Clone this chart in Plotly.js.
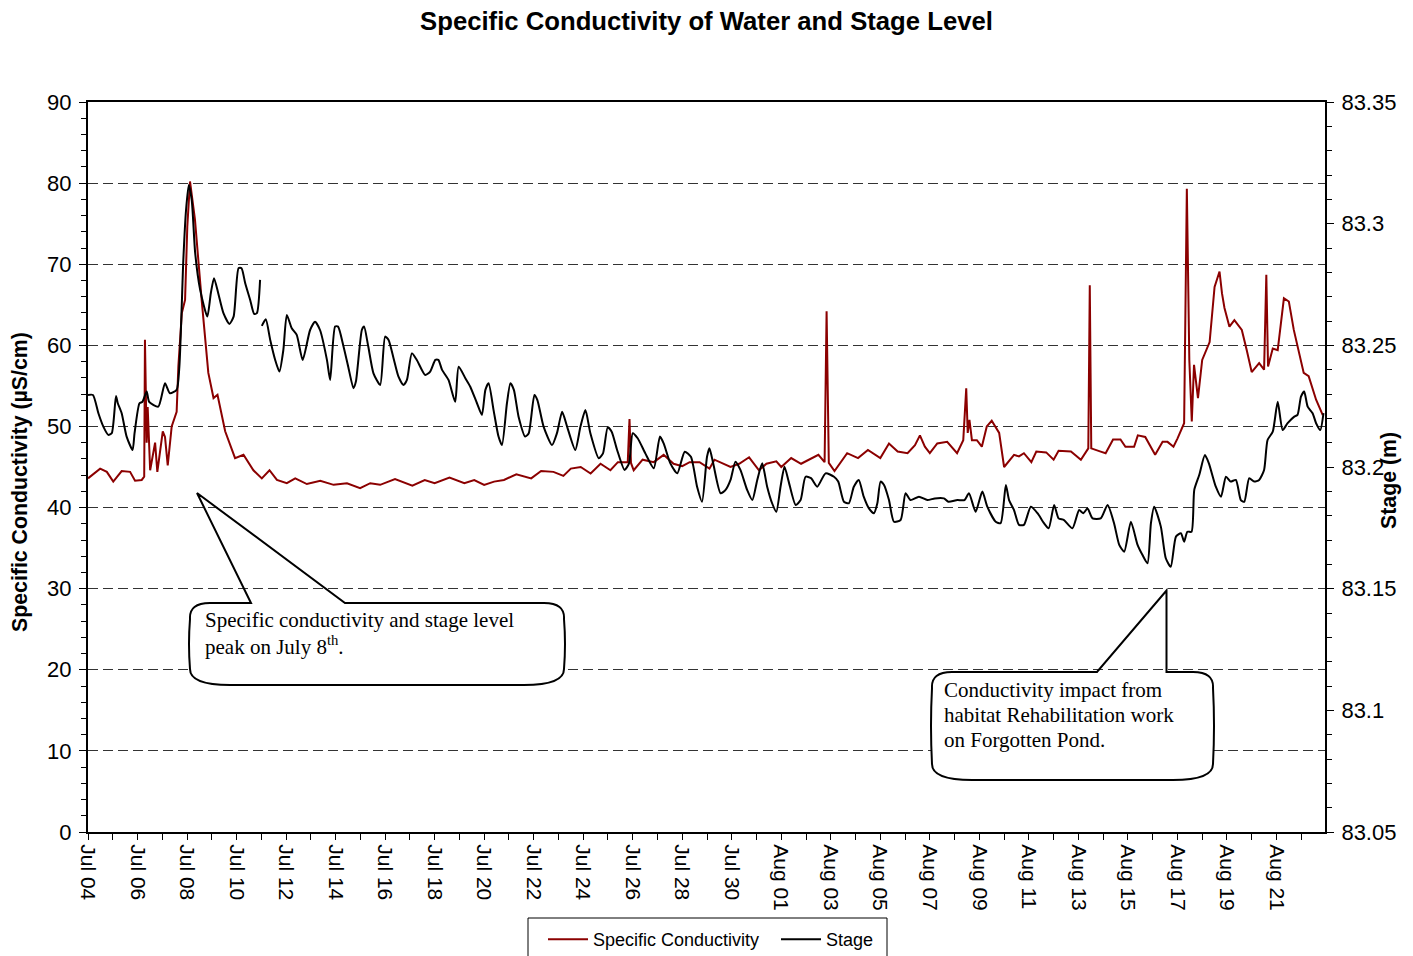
<!DOCTYPE html>
<html>
<head>
<meta charset="utf-8">
<script src="https://cdn.plot.ly/plotly-3.0.1.min.js"></script>
<style>
  html, body { margin: 0; padding: 0; background: #fff; }
  #chart { width: 1413px; height: 956px; }
</style>
</head>
<body>
<div id="chart"></div>
<script>
// ---- Data (days since Jul 04, 00:00) ----
const startDate = Date.UTC(2010, 6, 4);
const DAY = 86400000;

const condDays = [
  0, 0.49, 0.76, 1.02, 1.36, 1.70, 1.90, 2.17, 2.27, 2.30,
  2.37, 2.41, 2.51, 2.71, 2.80, 3.02, 3.11, 3.22, 3.38, 3.58,
  3.65, 3.79, 3.92, 4.01, 4.12, 4.32, 4.59, 4.86, 5.07, 5.23,
  5.54, 5.94, 6.28, 6.68, 7.02, 7.33, 7.63, 8.03, 8.37, 8.84,
  9.38, 9.92, 10.46, 10.99, 11.4, 11.8, 12.4, 13.1, 13.6,
  14.0, 14.6, 15.2, 15.6, 16.0, 16.4, 16.8, 17.3, 17.9, 18.3,
  18.8, 19.2, 19.5, 19.9, 20.3, 20.7, 21.1, 21.4, 21.8, 21.87,
  21.93, 22.04, 22.4, 22.85, 23.25, 23.65, 24.0, 24.3, 24.7, 25.1,
  25.3, 25.95, 26.3, 26.7, 27.1, 27.4, 27.8, 28.0, 28.4, 28.8,
  29.5, 29.75, 29.83, 29.92, 30.15, 30.66, 31.1, 31.5, 32.0, 32.35,
  32.7, 33.1, 33.4, 33.6, 33.8, 34.0, 34.3, 34.7, 35.1, 35.35,
  35.47, 35.53, 35.6, 35.7, 35.9, 36.1, 36.3, 36.5, 36.8, 37.0,
  37.4, 37.6, 37.8, 38.1, 38.3, 38.7, 39.0, 39.2, 39.7, 40.1,
  40.4, 40.46, 40.52, 40.9, 41.1, 41.4, 41.7, 41.9, 42.25, 42.4,
  42.7, 43.1, 43.4, 43.6, 43.84, 44.0, 44.27, 44.38, 44.48, 44.58,
  44.67, 44.83, 45.0, 45.3, 45.5, 45.7, 45.8, 45.9, 46.1, 46.3,
  46.6, 46.8, 47.0, 47.3, 47.5, 47.59, 47.66, 47.85, 48.05, 48.3,
  48.5, 48.7, 49.0, 49.1, 49.3, 49.6, 49.87
];
const condValues = [
  43.6, 44.8, 44.4, 43.2, 44.5, 44.4, 43.3, 43.4, 43.8, 60.7,
  48.0, 52.4, 44.6, 48.0, 44.4, 49.4, 48.7, 45.2, 50.0, 51.8,
  57.4, 64.0, 65.6, 74.6, 80.2, 75.5, 65.6, 56.6, 53.5, 53.9,
  49.4, 46.1, 46.5, 44.6, 43.6, 44.6, 43.4, 43.0, 43.6, 42.9,
  43.3, 42.8, 43.0, 42.4, 43.0, 42.8, 43.5, 42.7, 43.4,
  43.0, 43.7, 43.0, 43.4, 42.8, 43.2, 43.4, 44.1, 43.6, 44.5,
  44.4, 43.9, 44.8, 45.0, 44.2, 45.4, 44.6, 45.6, 45.6, 50.9,
  45.5, 44.6, 45.9, 45.6, 46.5, 45.4, 45.1, 45.6, 45.6, 44.8,
  45.9, 45.0, 45.4, 46.2, 44.6, 45.4, 45.7, 45.0, 46.1, 45.4,
  46.5, 45.6, 64.2, 45.5, 44.5, 46.7, 46.1, 47.1, 46.1, 47.9,
  46.9, 46.7, 47.7, 48.9, 47.5, 46.7, 47.9, 48.1, 46.7, 48.3,
  54.7, 49.2, 50.8, 48.3, 48.3, 47.5, 50.0, 50.7, 49.2, 45.0,
  46.5, 46.3, 46.7, 45.6, 46.9, 46.8, 45.9, 47.0, 46.9, 45.9,
  47.3, 67.4, 47.3, 46.9, 46.7, 48.4, 48.4, 47.5, 47.5, 48.9,
  48.7, 46.5, 48.1, 48.1, 47.5, 48.5, 50.4, 79.3, 58.2, 50.6,
  57.6, 53.5, 58.2, 60.4, 67.2, 69.1, 66.4, 64.6, 62.3, 63.1,
  61.9, 59.4, 56.7, 57.8, 57.0, 68.7, 57.4, 59.6, 59.4, 65.8,
  65.4, 61.9, 57.8, 56.6, 56.2, 53.3, 51.4
];

const stageDays = [
  0, 0.2, 0.42, 0.62, 0.82, 0.96, 1.13, 1.2, 1.36, 1.56,
  1.8, 1.88, 2.08, 2.2, 2.37, 2.47, 2.84, 3.11, 3.31, 3.58,
  3.69, 3.85, 3.96, 4.07, 4.19, 4.33, 4.53, 4.82, 4.96, 5.09,
  5.26, 5.47, 5.71, 5.88, 6.08, 6.2, 6.35, 6.55, 6.71, 6.82,
  6.95, 6.985, 7.02, 7.18, 7.36, 7.56, 7.73, 7.89, 8.03, 8.23,
  8.43, 8.67, 8.97, 9.17, 9.37, 9.65, 9.78, 9.98, 10.1, 10.32,
  10.51, 10.72, 10.82, 11.06, 11.15, 11.32, 11.53, 11.8, 12.0, 12.14,
  12.34, 12.54, 12.74, 12.88, 13.08, 13.28, 13.62, 13.82, 14.03, 14.15,
  14.3, 14.56, 14.83, 14.97, 15.24, 15.44, 15.71, 15.91, 16.05, 16.18,
  16.38, 16.58, 16.72, 16.92, 17.06, 17.2, 17.39, 17.66, 17.8, 18.03,
  18.15, 18.4, 18.74, 18.94, 19.15, 19.35, 19.68, 19.89, 20.09, 20.29,
  20.63, 20.8, 20.99, 21.15, 21.37, 21.67, 21.85, 22.0, 22.2, 22.51,
  22.85, 23.1, 23.25, 23.52, 23.8, 24.1, 24.35, 24.6, 24.8, 25.0,
  25.1, 25.25, 25.55, 25.75, 25.95, 26.15, 26.35, 26.62, 26.83, 27.03,
  27.23, 27.43, 27.63, 27.8, 27.97, 28.13, 28.3, 28.58, 28.78, 28.98,
  29.2, 29.45, 29.79, 30.13, 30.3, 30.53, 30.73, 30.93, 31.13, 31.33,
  31.54, 31.74, 31.88, 32.01, 32.15, 32.35, 32.55, 32.82, 33.02, 33.22,
  33.56, 33.9, 34.2, 34.57, 34.75, 35.11, 35.4, 35.58, 35.85, 36.12,
  36.32, 36.66, 36.86, 37.07, 37.2, 37.4, 37.6, 37.8, 38.08, 38.35,
  38.61, 38.8, 39.02, 39.2, 39.42, 39.76, 40.03, 40.2, 40.37, 40.57,
  40.9, 41.18, 41.44, 41.65, 41.85, 42.12, 42.39, 42.59, 42.79, 42.93,
  43.06, 43.33, 43.53, 43.73, 43.94, 44.14, 44.27, 44.4, 44.57, 44.68,
  44.88, 45.11, 45.27, 45.55, 45.76, 45.96, 46.15, 46.36, 46.56, 46.7,
  46.9, 47.1, 47.3, 47.5, 47.64, 47.85, 48.05, 48.25, 48.45, 48.72,
  48.85, 48.99, 49.12, 49.26, 49.46, 49.6, 49.77, 49.9
];
const stageValues = [
  83.2296, 83.2296, 83.2221, 83.2166, 83.2132, 83.2139, 83.2292, 83.2263, 83.2221, 83.2125,
  83.2070, 83.2139, 83.2262, 83.2268, 83.2310, 83.2268, 83.2248, 83.2344, 83.2303, 83.2317,
  83.2412, 83.2851, 83.3056, 83.3159, 83.3097, 83.2878, 83.2728, 83.2618, 83.2714, 83.2776,
  83.2714, 83.2632, 83.2588, 83.2618, 83.2817, 83.2817, 83.2755, 83.2686, 83.2629, 83.2632,
  83.2769, null, 83.2580, 83.2607, 83.2522, 83.2440, 83.2392, 83.2481, 83.2625, 83.2570,
  83.2543, 83.2440, 83.2563, 83.2597, 83.2563, 83.2440, 83.2358, 83.2577, 83.2577, 83.2495,
  83.2412, 83.2324, 83.2351, 83.2563, 83.2577, 83.2495, 83.2385, 83.2337, 83.2536, 83.2522,
  83.2447, 83.2371, 83.2337, 83.2358, 83.2467, 83.2440, 83.2378, 83.2392, 83.2440, 83.2440,
  83.2399, 83.2358, 83.2268, 83.2412, 83.2365, 83.2330, 83.2262, 83.2214, 83.2317, 83.2344,
  83.2234, 83.2125, 83.2090, 83.2262, 83.2344, 83.2317, 83.2207, 83.2125, 83.2139, 83.2296,
  83.2275, 83.2166, 83.2090, 83.2139, 83.2227, 83.2166, 83.2070, 83.2166, 83.2234, 83.2139,
  83.2036, 83.2056, 83.2163, 83.2145, 83.2070, 83.1988, 83.2015, 83.2139, 83.2118, 83.2056,
  83.1995, 83.2125, 83.2097, 83.2015, 83.1974, 83.2063, 83.2042, 83.1919, 83.1857, 83.2042,
  83.2077, 83.2015, 83.1892, 83.1906, 83.1947, 83.2022, 83.1988, 83.1906, 83.1864, 83.1947,
  83.2015, 83.1919, 83.1851, 83.1816, 83.1919, 83.2001, 83.1940, 83.1844, 83.1864, 83.1960,
  83.1954, 83.1919, 83.1974, 83.1960, 83.1940, 83.1857, 83.1851, 83.1919, 83.1947, 83.1878,
  83.1830, 83.1810, 83.1851, 83.1940, 83.1926, 83.1864, 83.1775, 83.1782, 83.1892, 83.1864,
  83.1878, 83.1864, 83.1871, 83.1871, 83.1857, 83.1864, 83.1864, 83.1892, 83.1816, 83.1899,
  83.1837, 83.1775, 83.1769, 83.1926, 83.1864, 83.1823, 83.1762, 83.1762, 83.1837, 83.1810,
  83.1769, 83.1748, 83.1844, 83.1789, 83.1782, 83.1748, 83.1823, 83.1810, 83.1830, 83.1789,
  83.1789, 83.1844, 83.1769, 83.1680, 83.1652, 83.1775, 83.1680, 83.1638, 83.1604, 83.1769,
  83.1837, 83.1755, 83.1625, 83.1590, 83.1714, 83.1728, 83.1693, 83.1734, 83.1734, 83.1906,
  83.1967, 83.2049, 83.2015, 83.1919, 83.1878, 83.1960, 83.1940, 83.1947, 83.1864, 83.1857,
  83.1954, 83.1940, 83.1947, 83.1988, 83.2111, 83.2145, 83.2268, 83.2152, 83.2180, 83.2207,
  83.2214, 83.2289, 83.2310, 83.2248, 83.2221, 83.2180, 83.2152, 83.2221
];

const seriesNames = ['Specific Conductivity', 'Stage'];
const chartTitle = 'Specific Conductivity of Water and Stage Level';
const yTitle = 'Specific Conductivity (\u00b5S/cm)';
const y2Title = 'Stage (m)';
const note1Lines = ['Specific conductivity and stage level', 'peak on July 8<sup>th</sup>.'];
const note2Lines = ['Conductivity impact from', 'habitat Rehabilitation work', 'on Forgotten Pond.'];

// ---- Geometry helpers (pixel -> paper) ----
const W = 1413, H = 956;
const M = { l: 88, r: 88, t: 102, b: 124 };
const PW = W - M.l - M.r, PH = H - M.t - M.b;
const px = x => (x - M.l) / PW;
const py = y => (H - M.b - y) / PH;
const P = (x, y) => px(x).toFixed(5) + ',' + py(y).toFixed(5);

function calloutPath(x0, y0, x1, y1, tail) {
  const rtx = 20, rty = 16, rbx = 40, rby = 16;
  let d = 'M' + P(x0 + rtx, y0);
  if (tail) {
    d += ' L' + P(tail[1][0], y0) + ' L' + P(tail[0][0], tail[0][1]) + ' L' + P(tail[2][0], y0);
  }
  d += ' L' + P(x1 - rtx, y0);
  d += ' Q' + P(x1 + 1, y0) + ' ' + P(x1, y0 + rty);
  d += ' Q' + P(x1 + 2, (y0 + y1) / 2) + ' ' + P(x1, y1 - rby);
  d += ' Q' + P(x1, y1) + ' ' + P(x1 - rbx, y1);
  d += ' L' + P(x0 + rbx, y1);
  d += ' Q' + P(x0, y1) + ' ' + P(x0, y1 - rby);
  d += ' Q' + P(x0 - 2, (y0 + y1) / 2) + ' ' + P(x0, y0 + rty);
  d += ' Q' + P(x0 - 1, y0) + ' ' + P(x0 + rtx, y0);
  d += ' Z';
  return d;
}

const toDate = d => startDate + d * DAY;

const traces = [
  {
    x: condDays.map(toDate), y: condValues, name: seriesNames[0],
    type: 'scatter', mode: 'lines', line: { color: '#8B0000', width: 2 },
    xaxis: 'x', yaxis: 'y'
  },
  {
    x: stageDays.map(toDate), y: stageValues, name: seriesNames[1],
    type: 'scatter', mode: 'lines', line: { color: '#000000', width: 2, shape: 'spline', smoothing: 0.6 },
    connectgaps: false, xaxis: 'x', yaxis: 'y2'
  }
];

const FONT = 'Liberation Sans, Arial, sans-serif';
const SERIF = 'Liberation Serif, Times New Roman, serif';

const c1 = [190, 603, 564, 685];
const c2 = [932, 672, 1213, 780];

const noteAnnotations = [];
note1Lines.forEach((t, i) => noteAnnotations.push({
  xref: 'paper', yref: 'paper', x: px(203), y: py(620 + 25 * i), xanchor: 'left', yanchor: 'middle',
  align: 'left', showarrow: false, text: t, font: { family: SERIF, size: 21, color: '#000' }
}));
note2Lines.forEach((t, i) => noteAnnotations.push({
  xref: 'paper', yref: 'paper', x: px(942), y: py(690 + 25 * i), xanchor: 'left', yanchor: 'middle',
  align: 'left', showarrow: false, text: t, font: { family: SERIF, size: 21, color: '#000' }
}));

const layout = {
  width: W, height: H, autosize: false,
  margin: M,
  paper_bgcolor: '#ffffff', plot_bgcolor: '#ffffff',
  font: { family: FONT, color: '#000', size: 21 },
  title: {
    text: '<b>' + chartTitle + '</b>',
    font: { family: FONT, size: 25.7, color: '#000' },
    x: 0.5, xref: 'paper', xanchor: 'center',
    y: 1 - 21 / H, yref: 'container', yanchor: 'middle'
  },
  showlegend: true,
  legend: {
    orientation: 'h', x: px(543), xref: 'paper', xanchor: 'left',
    y: 1 - 921 / H, yref: 'container', yanchor: 'top',
    borderwidth: 0, bgcolor: 'rgba(0,0,0,0)', itemwidth: 40,
    entrywidth: 178, entrywidthmode: 'pixels',
    font: { family: FONT, size: 18, color: '#000' }
  },
  xaxis: {
    type: 'date',
    range: [startDate, startDate + 49.96 * DAY],
    tickmode: 'linear', tick0: startDate, dtick: 2 * DAY,
    tickformat: '%b %d', tickangle: 90,
    ticks: 'outside', ticklen: 6, tickwidth: 1, tickcolor: '#000',
    minor: { dtick: DAY, ticks: 'outside', ticklen: 6, tickwidth: 1, tickcolor: '#000', showgrid: false },
    showline: true, linecolor: '#000', linewidth: 2, mirror: true,
    showgrid: false, zeroline: false,
    tickfont: { family: FONT, size: 21, color: '#000' },
    ticklabelstandoff: 0
  },
  yaxis: {
    range: [0, 90], tick0: 0, dtick: 10,
    ticks: 'outside', ticklen: 7, tickwidth: 1, tickcolor: '#000',
    minor: { dtick: 2, ticks: 'outside', ticklen: 5, tickwidth: 1, tickcolor: '#000', showgrid: false },
    showline: true, linecolor: '#000', linewidth: 2,
    showgrid: true, gridcolor: '#333', gridwidth: 1, griddash: '10px,5px',
    zeroline: false,
    tickfont: { family: FONT, size: 22, color: '#000' },
    ticklabelstandoff: 3
  },
  yaxis2: {
    overlaying: 'y', side: 'right',
    range: [83.05, 83.35], tick0: 83.05, dtick: 0.05,
    ticks: 'outside', ticklen: 7, tickwidth: 1, tickcolor: '#000',
    minor: { dtick: 0.01, ticks: 'outside', ticklen: 5, tickwidth: 1, tickcolor: '#000', showgrid: false },
    showline: true, linecolor: '#000', linewidth: 2,
    showgrid: false, zeroline: false,
    tickfont: { family: FONT, size: 22, color: '#000' },
    ticklabelstandoff: 3
  },
  shapes: [
    // legend frame
    { type: 'rect', xref: 'paper', yref: 'paper', layer: 'above',
      x0: px(528), x1: px(887), y0: py(918), y1: py(962),
      fillcolor: 'rgba(0,0,0,0)', line: { color: '#000', width: 1 } },
    { type: 'path', xref: 'paper', yref: 'paper', layer: 'above',
      path: calloutPath(c1[0], c1[1], c1[2], c1[3], null),
      fillcolor: '#fff', line: { width: 0 } },
    { type: 'path', xref: 'paper', yref: 'paper', layer: 'above',
      path: calloutPath(c1[0], c1[1], c1[2], c1[3], [[197, 493], [251, 603], [345, 603]]),
      fillcolor: 'rgba(0,0,0,0)', line: { color: '#000', width: 2 } },
    { type: 'path', xref: 'paper', yref: 'paper', layer: 'above',
      path: calloutPath(c2[0], c2[1], c2[2], c2[3], null),
      fillcolor: '#fff', line: { width: 0 } },
    { type: 'path', xref: 'paper', yref: 'paper', layer: 'above',
      path: calloutPath(c2[0], c2[1], c2[2], c2[3], [[1166.5, 590.5], [1097, 672], [1166.5, 672]]),
      fillcolor: 'rgba(0,0,0,0)', line: { color: '#000', width: 2 } }
  ],
  annotations: noteAnnotations.concat([
    { xref: 'paper', yref: 'paper', x: px(20), y: py(482), xanchor: 'center', yanchor: 'middle',
      showarrow: false, textangle: -90, text: '<b>' + yTitle + '</b>',
      font: { family: FONT, size: 21.3, color: '#000' } },
    { xref: 'paper', yref: 'paper', x: px(1389), y: py(480), xanchor: 'center', yanchor: 'middle',
      showarrow: false, textangle: -90, text: '<b>' + y2Title + '</b>',
      font: { family: FONT, size: 21.3, color: '#000' } }
  ])
};

Plotly.newPlot('chart', traces, layout, { displayModeBar: false, staticPlot: true });
</script>
</body>
</html>
